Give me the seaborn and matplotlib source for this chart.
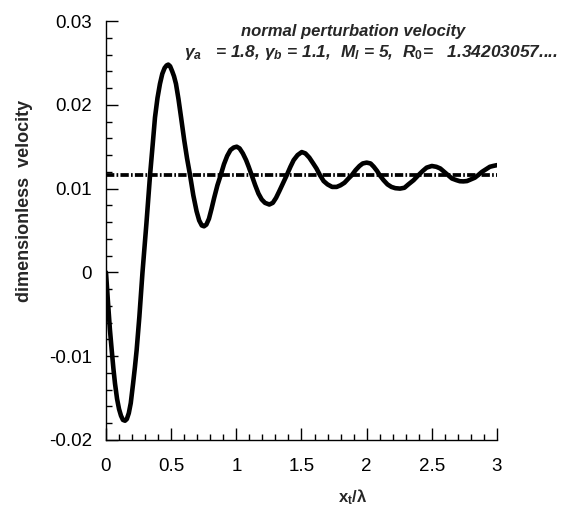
import matplotlib
matplotlib.use("Agg")
import matplotlib.pyplot as plt
import seaborn as sns
import pandas as pd
from matplotlib.ticker import MultipleLocator, FixedLocator, FixedFormatter

# ---- data ----
x_pos = [0.0, 0.015, 0.03, 0.044, 0.057, 0.069, 0.085, 0.10, 0.115, 0.13, 0.146,
         0.16, 0.175, 0.19, 0.208, 0.222, 0.235, 0.256, 0.28, 0.31, 0.338, 0.358,
         0.376, 0.395, 0.414, 0.432, 0.45, 0.465, 0.478, 0.492, 0.508, 0.522,
         0.537, 0.556, 0.576, 0.60, 0.622, 0.645, 0.67, 0.695, 0.715, 0.735,
         0.752, 0.77, 0.79, 0.81, 0.83, 0.855, 0.88, 0.905, 0.93, 0.955, 0.98,
         1.003, 1.025, 1.05, 1.075, 1.095, 1.118, 1.145, 1.17, 1.195, 1.22,
         1.253, 1.28, 1.305, 1.33, 1.36, 1.387, 1.415, 1.44, 1.47, 1.502, 1.53,
         1.56, 1.59, 1.615, 1.642, 1.67, 1.70, 1.735, 1.77, 1.80, 1.83, 1.86,
         1.886, 1.915, 1.945, 1.97, 2.0, 2.03, 2.055, 2.08, 2.10, 2.13, 2.16,
         2.19, 2.22, 2.256, 2.29, 2.32, 2.36, 2.397, 2.43, 2.46, 2.50, 2.535,
         2.565, 2.595, 2.625, 2.655, 2.69, 2.715, 2.742, 2.77, 2.80, 2.83,
         2.855, 2.885, 2.915, 2.945, 2.97, 3.0]
velocity = [0.0, -0.0035, -0.0068, -0.0093, -0.0115, -0.01325, -0.0151, -0.0163,
            -0.0171, -0.0176, -0.0177, -0.0175, -0.0168, -0.0156, -0.01325,
            -0.0113, -0.0093, -0.0053, 0.0, 0.0058, 0.0116, 0.0152, 0.0185,
            0.0208, 0.0225, 0.0237, 0.0244, 0.0247, 0.0248, 0.0246, 0.0240,
            0.0234, 0.0225, 0.0207, 0.0185, 0.0158, 0.0136, 0.0116, 0.0092,
            0.0073, 0.0062, 0.0056, 0.0055, 0.0057, 0.0064, 0.0076, 0.0089,
            0.0104, 0.0116, 0.0129, 0.0139, 0.0146, 0.0149, 0.0150, 0.0148,
            0.0142, 0.0134, 0.0126, 0.0116, 0.0104, 0.0094, 0.0087, 0.0083,
            0.0081, 0.0083, 0.0089, 0.0097, 0.0107, 0.0116, 0.0126, 0.0134,
            0.0140, 0.01436, 0.0142, 0.0137, 0.0130, 0.0124, 0.0116, 0.0109,
            0.0105, 0.0102, 0.0102, 0.0104, 0.0107, 0.0112, 0.0116, 0.0122,
            0.0127, 0.0130, 0.0131, 0.0130, 0.0126, 0.0121, 0.0116, 0.0110,
            0.0105, 0.0102, 0.01005, 0.0100, 0.0101, 0.0105, 0.0110, 0.0116,
            0.0121, 0.0125, 0.0127, 0.0126, 0.0124, 0.0120, 0.0116, 0.0112,
            0.0110, 0.01088, 0.01086, 0.0109, 0.0111, 0.0113, 0.0116, 0.0120,
            0.0123, 0.0126, 0.0127, 0.0128]
ref_x = [0.0, 3.0]
ref_velocity = [0.0116, 0.0116]

x_ticks = [0, 0.5, 1, 1.5, 2, 2.5, 3]
x_tick_labels = ["0", "0.5", "1", "1.5", "2", "2.5", "3"]
y_ticks = [-0.02, -0.01, 0, 0.01, 0.02, 0.03]
y_tick_labels = ["-0.02", "-0.01", "0", "0.01", "0.02", "0.03"]

title1 = "normal perturbation velocity"
title2 = r"$\gamma_a$   = 1.8, $\gamma_b$ = 1.1,  $M_l$ = 5,  $R_0$=   1.34203057...."
xlabel = r"$\mathbf{x_t/\lambda}$"
ylabel = "dimensionless  velocity"

# ---- style ----
sns.set_style("ticks")
plt.rcParams["font.family"] = ["Liberation Sans", "DejaVu Sans"]
plt.rcParams["axes.unicode_minus"] = False
plt.rcParams["lines.scale_dashes"] = False
plt.rcParams["mathtext.fontset"] = "custom"
plt.rcParams["mathtext.rm"] = "Liberation Sans:bold"
plt.rcParams["mathtext.it"] = "Liberation Sans:italic:bold"
plt.rcParams["mathtext.bf"] = "Liberation Sans:bold"

fig = plt.figure(figsize=(5.62, 5.16), dpi=100)
ax = fig.add_axes([0.1886, 0.1473, 0.6957, 0.812])

df = pd.DataFrame({"x": x_pos, "v": velocity})
dref = pd.DataFrame({"x": ref_x, "v": ref_velocity})

sns.lineplot(data=dref, x="x", y="v", ax=ax, color="black", lw=2.7,
             estimator=None, sort=False)
ax.lines[-1].set_dashes((6.0, 1.6, 1.2, 1.6))
sns.lineplot(data=df, x="x", y="v", ax=ax, color="black", lw=3.3,
             estimator=None, sort=False)

ax.set_xlim(0, 3)
ax.set_ylim(-0.02, 0.03)
ax.xaxis.set_major_locator(FixedLocator(x_ticks))
ax.xaxis.set_major_formatter(FixedFormatter(x_tick_labels))
ax.yaxis.set_major_locator(FixedLocator(y_ticks))
ax.yaxis.set_major_formatter(FixedFormatter(y_tick_labels))
ax.xaxis.set_minor_locator(MultipleLocator(0.1))
ax.yaxis.set_minor_locator(MultipleLocator(0.002))

for s in ["top", "right"]:
    ax.spines[s].set_visible(False)
for s in ["left", "bottom"]:
    ax.spines[s].set_linewidth(1.0)
    ax.spines[s].set_color("black")

ax.tick_params(which="major", direction="in", length=8.6, width=1.0,
               labelsize=13.5, colors="black")
ax.tick_params(which="minor", direction="in", length=4.5, width=1.0, colors="black")
ax.tick_params(axis="x", which="major", pad=13)
ax.tick_params(axis="y", which="major", pad=10)

ax.set_xlabel("")
ax.set_ylabel("")
fig.text(0.628, 0.037, xlabel, ha="center", va="center", fontsize=12)
fig.text(0.043, 0.61, ylabel, rotation=90, ha="center", va="center",
         fontsize=13, fontweight="bold")
fig.text(0.628, 0.938, title1, ha="center", va="center", fontsize=12,
         fontweight="bold", style="italic")
fig.text(0.6600, 0.899, title2, ha="center", va="center", fontsize=12.5,
         fontweight="bold", style="italic")

fig.savefig("out.png", dpi=100)
